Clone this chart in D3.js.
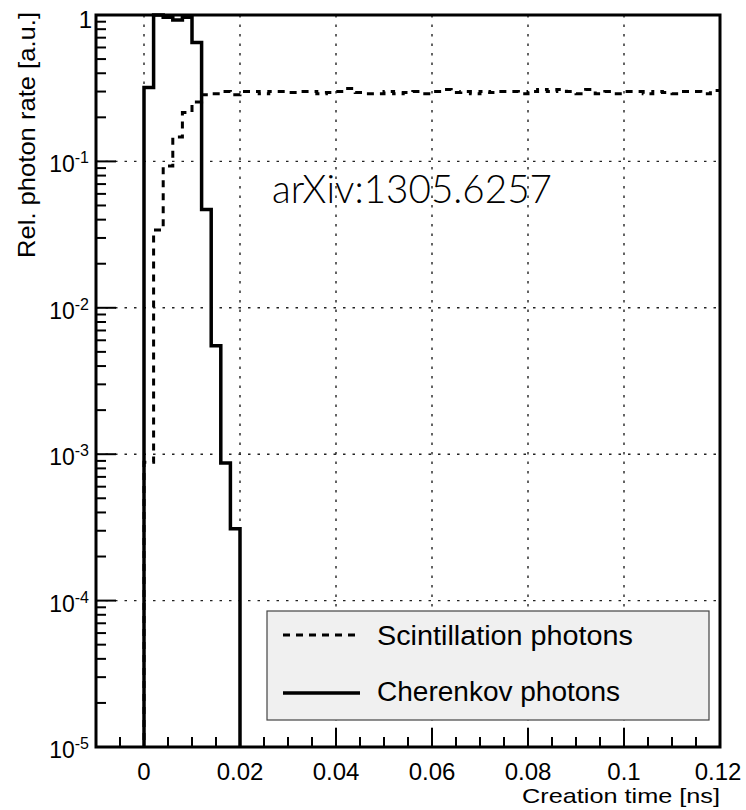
<!DOCTYPE html>
<html>
<head>
<meta charset="utf-8">
<script src="https://cdn.jsdelivr.net/npm/d3@7"></script>
<style>
  html, body { margin: 0; padding: 0; background: #fff; }
  svg { display: block; }
  text { font-family: "Liberation Sans", Arial, Helvetica, sans-serif; fill: #000; }
</style>
</head>
<body>
<script>
// ---------------- data ----------------
const binStart = 0;        // ns
const binWidth = 0.002;    // ns

// Cherenkov photons, bins from 0 to 0.02 ns
const cherenkov = [0.32, 1.0, 0.965, 0.925, 0.965, 0.65, 0.047, 0.0055, 0.00087, 0.00031];

// Scintillation photons, bins from 0 to 0.12 ns
const scintillation = [
  0.00088, 0.034, 0.093, 0.147, 0.216, 0.255,
  0.285, 0.29, 0.30, 0.285, 0.30, 0.30, 0.29, 0.30, 0.30, 0.295,
  0.30, 0.30, 0.29, 0.295, 0.30, 0.315, 0.295, 0.29, 0.29, 0.30,
  0.29, 0.295, 0.30, 0.29, 0.30, 0.31, 0.295, 0.30, 0.29, 0.30,
  0.295, 0.30, 0.30, 0.29, 0.30, 0.31, 0.30, 0.31, 0.30, 0.29,
  0.31, 0.29, 0.30, 0.29, 0.30, 0.30, 0.29, 0.30, 0.295, 0.29,
  0.30, 0.30, 0.29, 0.305
];

const xTicks = [0, 0.02, 0.04, 0.06, 0.08, 0.1, 0.12];
const xTickLabels = ["0", "0.02", "0.04", "0.06", "0.08", "0.1", "0.12"];
const yDecades = [1, 1e-1, 1e-2, 1e-3, 1e-4, 1e-5];
const yExponents = ["", "-1", "-2", "-3", "-4", "-5"];
const legendLabels = ["Scintillation photons", "Cherenkov photons"];
const xTitle = "Creation time [ns]";
const yTitle = "Rel. photon rate [a.u.]";
const watermark = "arXiv:1305.6257";

// ---------------- layout ----------------
const W = 746, H = 810;
const L = 96, R = 720, T = 15, B = 747;

const svg = d3.select("body").append("svg").attr("width", W).attr("height", H);
svg.append("rect").attr("width", W).attr("height", H).attr("fill", "#fff");

const x = d3.scaleLinear().domain([-0.01, 0.12]).range([L, R]);
const y = d3.scaleLog().domain([1e-5, 1]).range([B, T]);

svg.append("clipPath").attr("id", "plotclip")
  .append("rect").attr("x", L).attr("y", T - 2).attr("width", R - L).attr("height", B - T + 2);

// grid
const grid = svg.append("g").attr("stroke", "#222").attr("stroke-width", 1.4)
  .attr("stroke-dasharray", "2.5,7");
xTicks.filter(t => t < 0.12).forEach(t => {
  grid.append("line").attr("x1", x(t)).attr("x2", x(t)).attr("y1", T).attr("y2", B);
});
yDecades.filter(d => d < 1 && d > 1e-5).forEach(d => {
  grid.append("line").attr("x1", L).attr("x2", R).attr("y1", y(d)).attr("y2", y(d));
});

// histograms
function stepPoints(values, dropAtEnd) {
  const pts = [[binStart, 0]];
  values.forEach((v, i) => {
    const x0 = binStart + i * binWidth;
    pts.push([x0, v], [x0 + binWidth, v]);
  });
  if (dropAtEnd) pts.push([binStart + values.length * binWidth, 0]);
  return pts;
}
const line = d3.line()
  .x(d => x(d[0]))
  .y(d => d[1] > 0 ? y(d[1]) : B + 6);

const plot = svg.append("g").attr("clip-path", "url(#plotclip)");
plot.append("path").attr("d", line(stepPoints(scintillation, false)))
  .attr("fill", "none").attr("stroke", "#000").attr("stroke-width", 3)
  .attr("stroke-dasharray", "7,6");
plot.append("path").attr("d", line(stepPoints(cherenkov, true)))
  .attr("fill", "none").attr("stroke", "#000").attr("stroke-width", 3.5)
  .attr("stroke-linejoin", "miter");

// frame
svg.append("rect").attr("x", L).attr("y", T).attr("width", R - L).attr("height", B - T)
  .attr("fill", "none").attr("stroke", "#000").attr("stroke-width", 3);

// x ticks
const ticks = svg.append("g").attr("stroke", "#000").attr("stroke-width", 2);
d3.range(-0.005, 0.1201, 0.005).forEach(t => {
  const major = Math.abs(t / 0.02 - Math.round(t / 0.02)) < 1e-6;
  ticks.append("line").attr("x1", x(t)).attr("x2", x(t))
    .attr("y1", B).attr("y2", B - (major ? 19 : 10));
});
// y ticks
yDecades.forEach(d => {
  ticks.append("line").attr("x1", L).attr("x2", L + 20).attr("y1", y(d)).attr("y2", y(d));
  if (d > 1e-5) {
    for (let k = 2; k <= 9; k++) {
      const v = d * k / 10;
      ticks.append("line").attr("x1", L).attr("x2", L + 10).attr("y1", y(v)).attr("y2", y(v));
    }
  }
});

// x tick labels
xTicks.forEach((t, i) => {
  svg.append("text").attr("x", i === xTicks.length - 1 ? x(t) - 2 : x(t)).attr("y", 780)
    .attr("text-anchor", "middle").attr("font-size", 24).text(xTickLabels[i]);
});

// y tick labels
yDecades.forEach((d, i) => {
  if (yExponents[i] === "") {
    svg.append("text").attr("x", 92).attr("y", 28).attr("text-anchor", "end")
      .attr("font-size", 24).text("1");
  } else {
    const t = svg.append("text").attr("x", 89).attr("y", y(d) + 11)
      .attr("text-anchor", "end").attr("font-size", 23);
    t.append("tspan").text("10");
    t.append("tspan").attr("font-size", 16).attr("dy", -9).text(yExponents[i]);
  }
});

// axis titles
svg.append("text").attr("x", 720).attr("y", 803).attr("text-anchor", "end")
  .attr("font-size", 21).attr("textLength", 198).attr("lengthAdjust", "spacingAndGlyphs")
  .text(xTitle);
svg.append("text").attr("transform", "translate(35,12) rotate(-90)")
  .attr("text-anchor", "end").attr("font-size", 24)
  .attr("textLength", 246).attr("lengthAdjust", "spacingAndGlyphs")
  .text(yTitle);

// legend
const lg = svg.append("g");
lg.append("rect").attr("x", 267).attr("y", 611).attr("width", 442).attr("height", 109)
  .attr("fill", "#f0f0f0").attr("stroke", "#444").attr("stroke-width", 1.2);
const lgY = [635, 693];
lg.append("line").attr("x1", 283).attr("x2", 360).attr("y1", lgY[0]).attr("y2", lgY[0])
  .attr("stroke", "#000").attr("stroke-width", 3).attr("stroke-dasharray", "7,6");
lg.append("line").attr("x1", 283).attr("x2", 360).attr("y1", lgY[1]).attr("y2", lgY[1])
  .attr("stroke", "#000").attr("stroke-width", 3.5);
lg.append("text").attr("x", 377).attr("y", 645).attr("font-size", 27)
  .attr("textLength", 256).attr("lengthAdjust", "spacingAndGlyphs").text(legendLabels[0]);
lg.append("text").attr("x", 377).attr("y", 701).attr("font-size", 27)
  .attr("textLength", 243).attr("lengthAdjust", "spacingAndGlyphs").text(legendLabels[1]);

// watermark
svg.append("text").attr("x", 272).attr("y", 203)
  .style("font-family", "Lato, 'Open Sans', 'Noto Sans', sans-serif")
  .attr("font-weight", 300).attr("font-size", 40).attr("fill", "#111")
  .attr("textLength", 280).attr("lengthAdjust", "spacingAndGlyphs")
  .text(watermark);
</script>
</body>
</html>
